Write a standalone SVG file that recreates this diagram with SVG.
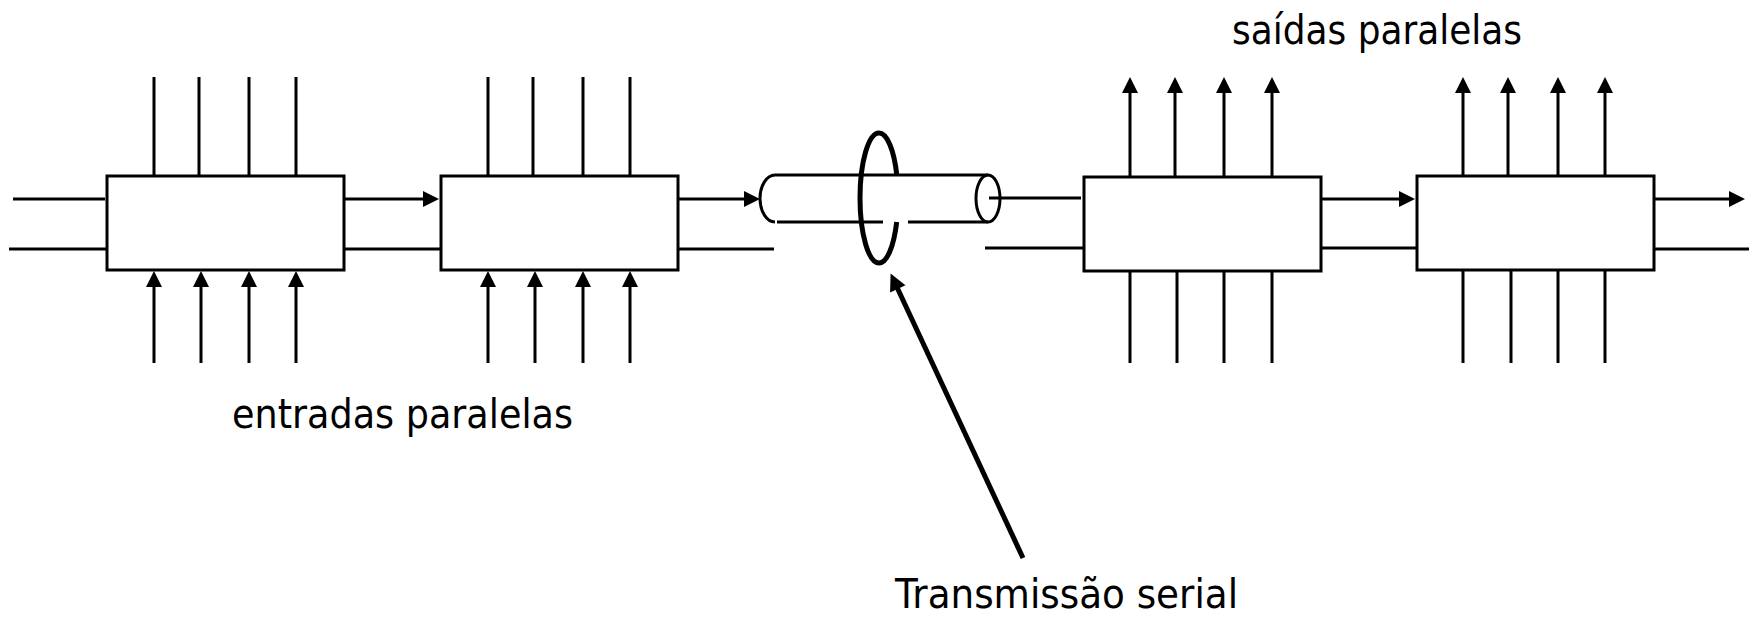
<svg xmlns="http://www.w3.org/2000/svg" width="1755" height="618" viewBox="0 0 1755 618">
<style>
.box{fill:#fff;stroke:#000;stroke-width:3}
.ln{stroke:#000;stroke-width:3;fill:none}
.ar{stroke:#000;stroke-width:3;fill:none;marker-end:url(#ah)}
.lbl{font-family:"DejaVu Sans","Liberation Sans",sans-serif;font-size:41px;fill:#000}
</style>
<defs>
<marker id="ah" viewBox="0 0 10 10" refX="5" refY="5" markerWidth="16" markerHeight="16" markerUnits="userSpaceOnUse" orient="auto">
<path d="M0,0 L10,5 L0,10 z" fill="#000"/>
</marker>
<marker id="ahb" viewBox="0 0 10 10" refX="5" refY="5" markerWidth="20" markerHeight="17" markerUnits="userSpaceOnUse" orient="auto">
<path d="M0,0 L10,5 L0,10 z" fill="#000"/>
</marker>
</defs>

<g id="connectors">
<path class="ln" d="M154,77V176M199,77V176M249,77V176M296,77V176"/>
<path class="ar" d="M154,363V279"/><path class="ar" d="M201,363V279"/><path class="ar" d="M249,363V279"/><path class="ar" d="M296,363V279"/>
<path class="ln" d="M13,199H105M9,249H110"/>
<path class="ar" d="M344,199H431"/>
<path class="ln" d="M341,249H441"/>
<path class="ln" d="M488,77V176M533,77V176M583,77V176M630,77V176"/>
<path class="ar" d="M488,363V279"/><path class="ar" d="M535,363V279"/><path class="ar" d="M583,363V279"/><path class="ar" d="M630,363V279"/>
<path class="ar" d="M678,199H752"/>
<path class="ln" d="M675,249H774"/>
<path class="ln" d="M989,198H1081M985,248H1084"/>
<path class="ar" d="M1130,177V85"/><path class="ar" d="M1175,177V85"/><path class="ar" d="M1224,177V85"/><path class="ar" d="M1272,177V85"/>
<path class="ln" d="M1130,271V363M1177,271V363M1224,271V363M1272,271V363"/>
<path class="ar" d="M1321,199H1407"/>
<path class="ln" d="M1316,248H1417"/>
<path class="ar" d="M1463,176V85"/><path class="ar" d="M1508,176V85"/><path class="ar" d="M1558,176V85"/><path class="ar" d="M1605,176V85"/>
<path class="ln" d="M1463,270V363M1511,270V363M1558,270V363M1605,270V363"/>
<path class="ar" d="M1654,199H1737"/>
<path class="ln" d="M1650,249H1749"/>
<path d="M1023,558 L894.2,281.2" stroke="#000" stroke-width="5" fill="none" marker-end="url(#ahb)"/>
</g>

<g id="box1"><rect class="box" x="107" y="176" width="237" height="94"/></g>
<g id="box2"><rect class="box" x="441" y="176" width="237" height="94"/></g>
<g id="box3"><rect class="box" x="1084" y="177" width="237" height="94"/></g>
<g id="box4"><rect class="box" x="1417" y="176" width="237" height="94"/></g>

<g id="cable">
<path class="ln" d="M775,175H988"/>
<path class="ln" d="M777,222H883M908,222H988"/>
<path class="ln" d="M775,175 A15,23.5 0 0 0 775,222"/>
<ellipse class="ln" cx="988" cy="198.5" rx="12" ry="23.5" fill="#fff"/>
<path d="M879,133 A19,65 0 0 0 879,263" stroke="#000" stroke-width="5" fill="none"/>
<path d="M879,133 A19,65 0 0 1 896.8,175" stroke="#000" stroke-width="5" fill="none"/>
<path d="M896.7,222 A19,65 0 0 1 879,263" stroke="#000" stroke-width="5" fill="none"/>
</g>

<g id="labels">
<text class="lbl" x="232" y="428" textLength="341" lengthAdjust="spacingAndGlyphs">entradas paralelas</text>
<text class="lbl" x="1232" y="44" textLength="290" lengthAdjust="spacingAndGlyphs">saídas paralelas</text>
<text class="lbl" x="895" y="608" textLength="343" lengthAdjust="spacingAndGlyphs">Transmissão serial</text>
</g>
</svg>
